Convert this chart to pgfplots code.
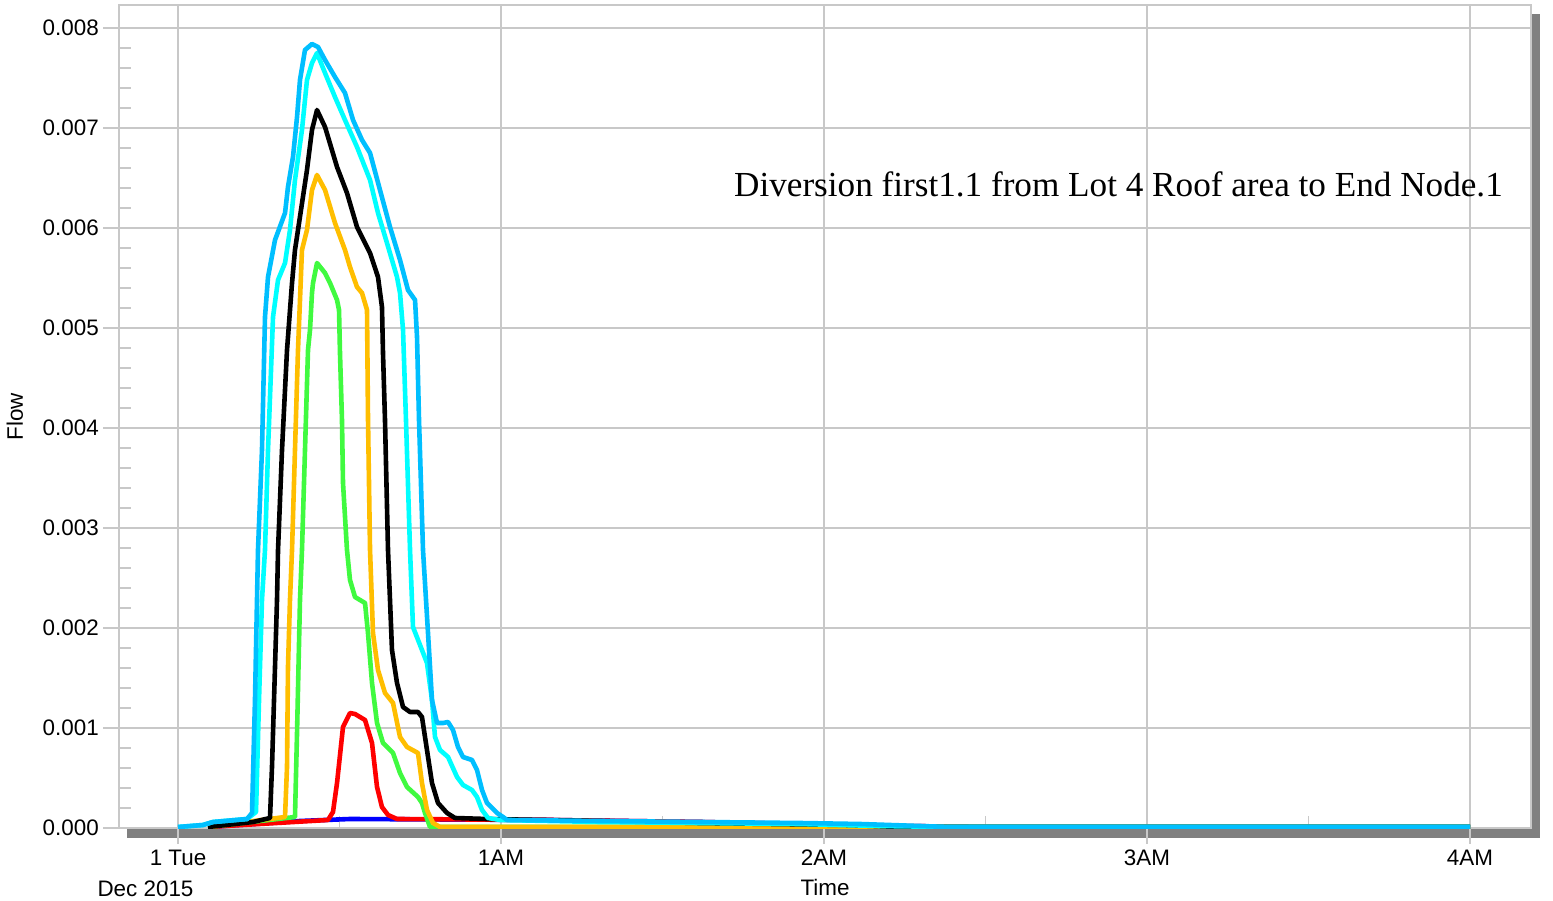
\documentclass[border=0pt]{standalone}
\usepackage{fontspec}
\setmainfont{Liberation Sans}
\newfontfamily\titlefont{Liberation Serif}
\usepackage{pgfplots}
\pgfplotsset{compat=1.18}

\definecolor{gridgray}{RGB}{200,200,200}
\definecolor{shadowgray}{RGB}{128,128,128}
\definecolor{skyblue}{RGB}{0,191,255}
\definecolor{aqua}{RGB}{0,255,255}
\definecolor{gold}{RGB}{255,190,0}
\definecolor{lime}{RGB}{64,250,64}

\begin{document}
\begin{tikzpicture}[font=\fontsize{22.5}{27}\selectfont]
\path[use as bounding box] (-119bp,-73bp) rectangle (1434bp,828bp);
% drop shadow behind the plot frame
\fill[shadowgray] (8bp,-10bp) rectangle (1421bp,814bp);
\begin{axis}[
  at={(0,0)}, anchor=south west,
  scale only axis, width=1412bp, height=823bp,
  xmin=-10.96, xmax=251.33,
  ymin=0, ymax=0.00823,
  axis background/.style={fill=white},
  axis line style={draw=gridgray, line width=1.5bp},
  grid=major,
  major grid style={draw=gridgray, line width=1.2bp},
  tick pos=left,
  tick align=inside,
  major tick length=-16bp,
  minor tick length=12bp,
  tick style={draw=gridgray, line width=1.2bp},
  xtick={0,60,120,180,240},
  xticklabels={1 Tue,1AM,2AM,3AM,4AM},
  minor x tick num=1,
  ytick={0,0.001,0.002,0.003,0.004,0.005,0.006,0.007,0.008},
  minor y tick num=4,
  scaled y ticks=false,
  /pgf/number format/fixed,
  /pgf/number format/fixed zerofill,
  /pgf/number format/precision=3,
  /pgf/number format/assume math mode=true,
  yticklabel style={anchor=east, inner sep=0pt, xshift=-20bp},
  xticklabel style={anchor=base, yshift=-37bp},
  xlabel={Time},
  xlabel style={at={(rel axis cs:0.5,-0.0826)}, anchor=base},
  ylabel={Flow},
  ylabel style={at={(rel axis cs:-0.0737,0.5)}, anchor=center},
  every axis plot/.append style={line width=4.6bp, line join=round, mark=none},
]
% blue
\addplot[color=blue] coordinates {
(5.57,0.00001)(22.66,0.00007)(31.95,0.00009)(69.10,0.00008)(96.97,0.00006)
(134.1,0.00002)(150,0.00001)(240,0.00001)};
% red
\addplot[color=red] coordinates {
(5.57,0.00001)(27.86,0.00008)(28.79,0.00016)(29.54,0.00045)(30.65,0.00101)
(31.95,0.00115)(32.88,0.00114)(34.74,0.00108)(36.04,0.00085)(36.97,0.00041)
(37.89,0.00021)(39.01,0.00013)(40.68,0.00009)(69.10,0.00008)(96.97,0.00006)
(134.1,0.00002)(150,0.00001)(240,0.00001)};
% green
\addplot[color=lime] coordinates {
(5.57,0.00001)(21.73,0.00011)(22.11,0.00095)(22.66,0.00228)(23.03,0.00278)
(23.59,0.00378)(24.15,0.00478)(24.52,0.00498)(24.89,0.00535)(25.08,0.00545)
(25.82,0.00565)(27.31,0.00555)(28.24,0.00545)(29.54,0.00528)(29.91,0.00518)
(30.09,0.00475)(30.46,0.00408)(30.65,0.00345)(31.39,0.00278)(31.95,0.00248)
(32.88,0.00231)(34.74,0.00225)(35.29,0.00195)(36.04,0.00145)(36.97,0.00105)
(38.08,0.00085)(39.94,0.00075)(41.24,0.00055)(42.54,0.00041)(44.58,0.00031)
(45.32,0.00025)(45.88,0.00015)(46.81,0.00001)(240,0.00001)};
% orange
\addplot[color=gold] coordinates {
(5.57,0.00001)(19.88,0.00011)(20.25,0.00061)(20.43,0.00161)(20.80,0.00228)
(21.18,0.00278)(21.73,0.00378)(22.29,0.00478)(23.03,0.00578)(23.96,0.00598)
(24.89,0.00638)(25.82,0.00653)(27.31,0.00638)(29.16,0.00605)(31.02,0.00578)
(31.95,0.00561)(33.25,0.00541)(34.18,0.00535)(35.11,0.00518)(35.29,0.00411)
(35.67,0.00278)(36.22,0.00195)(37.15,0.00158)(38.45,0.00135)(39.94,0.00125)
(41.24,0.00091)(42.54,0.00081)(44.58,0.00075)(45.32,0.00045)(46.25,0.00018)
(47.37,0.00005)(48.67,0.00001)(240,0.00001)};
% black
\addplot[color=black] coordinates {
(5.57,0.00001)(13.93,0.00006)(17.09,0.00010)(17.46,0.00061)(18.02,0.00161)
(18.39,0.00228)(18.58,0.00278)(19.32,0.00378)(20.25,0.00478)(21.18,0.00545)
(21.73,0.00578)(22.29,0.00598)(23.96,0.00658)(24.89,0.00698)(25.82,0.00718)
(27.31,0.00701)(29.54,0.00661)(31.39,0.00635)(33.25,0.00601)(35.67,0.00575)
(37.15,0.00551)(37.89,0.00521)(38.08,0.00475)(38.45,0.00408)(39.01,0.00278)
(39.75,0.00178)(40.68,0.00145)(41.80,0.00121)(43.10,0.00116)(44.58,0.00116)
(45.32,0.00111)(46.25,0.00078)(47.18,0.00045)(48.30,0.00025)(49.97,0.00015)
(51.46,0.00010)(57.40,0.00009)(78.39,0.00007)(96.97,0.00005)(124.8,0.00003)
(134.1,0.00001)(240,0.00001)};
% cyan
\addplot[color=aqua] coordinates {
(0,0.00001)(4.64,0.00003)(6.50,0.00006)(12.82,0.00009)(14.49,0.00016)
(15.05,0.00128)(15.60,0.00228)(16.16,0.00278)(16.72,0.00378)(17.65,0.00511)
(18.58,0.00548)(19.88,0.00565)(20.80,0.00598)(21.73,0.00648)(23.03,0.00698)
(23.96,0.00748)(24.89,0.00765)(25.82,0.00775)(27.31,0.00755)(29.16,0.00731)
(31.02,0.00708)(33.25,0.00681)(35.67,0.00648)(37.15,0.00615)(38.82,0.00585)
(40.68,0.00551)(41.24,0.00535)(41.80,0.00498)(42.35,0.00408)(43.10,0.00278)
(43.65,0.00201)(45.32,0.00178)(46.25,0.00165)(47.18,0.00128)(47.74,0.00091)
(48.67,0.00078)(50.16,0.00071)(51.83,0.00051)(52.94,0.00043)(54.61,0.00038)
(55.54,0.00031)(56.47,0.00018)(57.59,0.00010)(59.81,0.00008)(78.39,0.00006)
(96.97,0.00005)(115.5,0.00004)(130.4,0.00002)(143.4,0.00001)(240,0.00001)};
% deep sky blue
\addplot[color=skyblue] coordinates {
(0,0.00001)(4.64,0.00003)(6.50,0.00006)(12.82,0.00009)(13.75,0.00015)
(14.30,0.00128)(14.86,0.00278)(15.60,0.00378)(16.16,0.00511)(16.72,0.00551)
(18.02,0.00588)(19.88,0.00615)(20.43,0.00641)(21.36,0.00671)(22.11,0.00711)
(22.66,0.00748)(23.59,0.00778)(24.89,0.00784)(26.01,0.00781)(27.31,0.00768)
(29.16,0.00751)(31.02,0.00735)(32.51,0.00708)(34.18,0.00688)(35.67,0.00675)
(37.52,0.00638)(39.38,0.00601)(41.24,0.00568)(42.72,0.00538)(44.03,0.00528)
(44.40,0.00491)(44.77,0.00408)(45.51,0.00278)(46.44,0.00195)(47.18,0.00128)
(48.11,0.00105)(49.23,0.00105)(50.16,0.00106)(51.08,0.00098)(52.01,0.00081)
(52.94,0.00071)(54.61,0.00068)(55.54,0.00058)(56.47,0.00038)(57.40,0.00025)
(59.26,0.00015)(60.37,0.00011)(61.12,0.00008)(78.39,0.00007)(96.97,0.00006)
(115.5,0.00005)(126.7,0.00004)(137.8,0.00002)(143.4,0.00001)(240,0.00001)};
\end{axis}
\node[anchor=base east, inner sep=0pt, font=\titlefont\fontsize{35.3}{40}\selectfont] at (1384bp,631bp)
  {Diversion first1.1 from Lot 4 Roof area to End Node.1};
\node[anchor=base east] at (78bp,-68bp) {Dec 2015};
\end{tikzpicture}
\end{document}
